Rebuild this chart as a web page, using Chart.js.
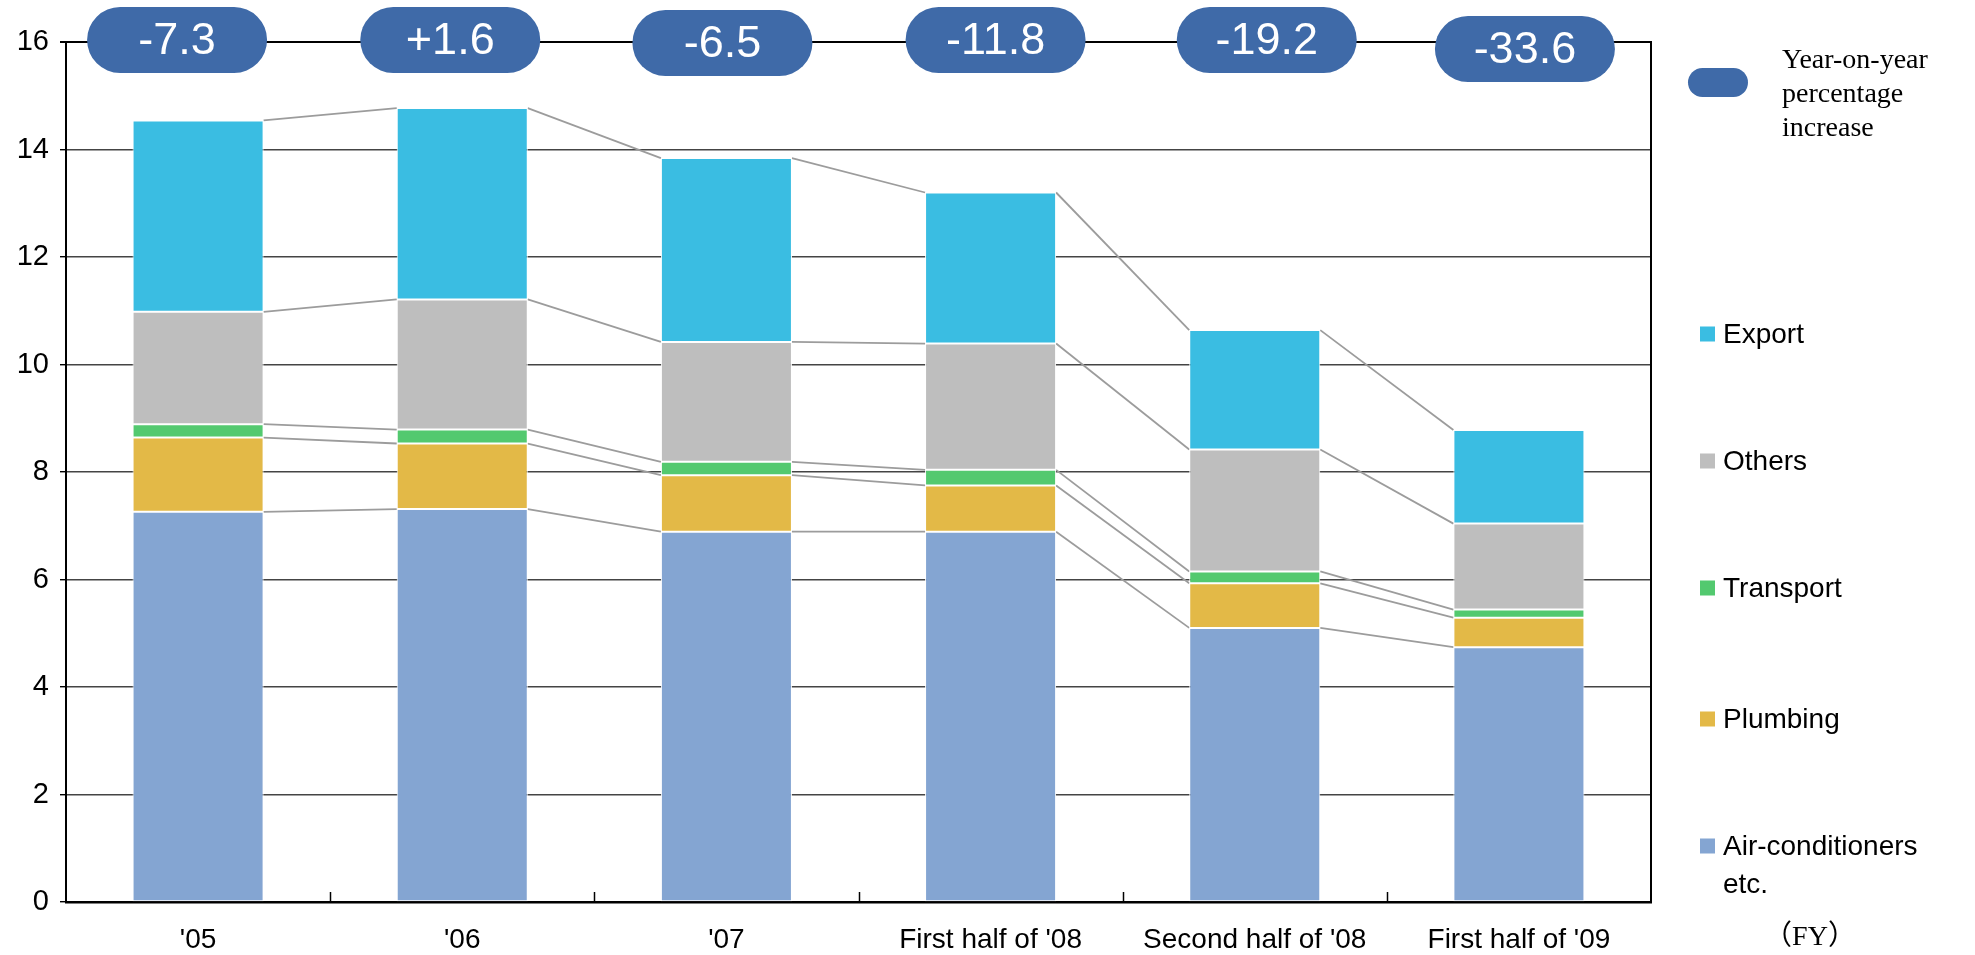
<!DOCTYPE html>
<html>
<head>
<meta charset="utf-8">
<script src="https://cdn.jsdelivr.net/npm/chart.js@4.4.1/dist/chart.umd.min.js"></script>
<style>
  html, body { margin: 0; padding: 0; background: #ffffff; }
  #wrap { width: 1975px; height: 955px; position: relative; }
</style>
</head>
<body>
<div id="wrap"><canvas id="chart" width="1975" height="955"></canvas></div>
<script>
// Sales by segment (stacked), fiscal years / half-years
const categories = ["'05", "'06", "'07", "First half of '08", "Second half of '08", "First half of '09"];
const airConditioners = [7.26, 7.31, 6.89, 6.89, 5.10, 4.74];
const plumbing        = [1.38, 1.22, 1.05, 0.86, 0.83, 0.55];
const transport       = [0.25, 0.26, 0.25, 0.29, 0.22, 0.15];
const others          = [2.09, 2.42, 2.23, 2.35, 2.27, 1.60];
const exportSales     = [3.56, 3.56, 3.42, 2.81, 2.22, 1.74];
const yoyChange       = ["-7.3", "+1.6", "-6.5", "-11.8", "-19.2", "-33.6"];
const yAxisMax = 16;
const yAxisStep = 2;

// Small layout nudges for the year-on-year badges (pixels)
const badgeNudgeX = [-21, -12, -4, 5, 12, 6];
const badgeNudgeY = [-2, -2, 1, -2, -2, 7];

const COLORS = {
  ac: '#84a5d2',
  plumbing: '#e3b947',
  transport: '#53c96f',
  others: '#bebebe',
  export: '#3abde2',
  badge: '#3f6aa8'
};

const SANS = "'Liberation Sans', Arial, sans-serif";
const SERIF = "'Liberation Serif', 'Times New Roman', serif";

function roundRect(ctx, x, y, w, h, r) {
  ctx.beginPath();
  ctx.moveTo(x + r, y);
  ctx.lineTo(x + w - r, y);
  ctx.arc(x + w - r, y + r, r, -Math.PI / 2, Math.PI / 2);
  ctx.lineTo(x + r, y + h);
  ctx.arc(x + r, y + r, r, Math.PI / 2, Math.PI * 1.5);
  ctx.closePath();
}

// Grey connector lines between the tops of matching segments
const seriesLines = {
  id: 'seriesLines',
  beforeDatasetsDraw(chart) {
    const ctx = chart.ctx;
    ctx.save();
    ctx.strokeStyle = '#9c9c9c';
    ctx.lineWidth = 1.8;
    chart.data.datasets.forEach((ds, di) => {
      const meta = chart.getDatasetMeta(di);
      for (let i = 0; i < meta.data.length - 1; i++) {
        const a = meta.data[i].getProps(['x', 'y', 'width'], true);
        const b = meta.data[i + 1].getProps(['x', 'y', 'width'], true);
        ctx.beginPath();
        ctx.moveTo(a.x + a.width / 2, a.y);
        ctx.lineTo(b.x - b.width / 2, b.y);
        ctx.stroke();
      }
    });
    ctx.restore();
  }
};

// Frame pieces, x tick marks, badges and legend
const decorations = {
  id: 'decorations',
  afterDraw(chart) {
    const ctx = chart.ctx;
    const area = chart.chartArea;
    const xs = chart.scales.x;
    const ys = chart.scales.y;
    ctx.save();

    // right border of the plot
    ctx.strokeStyle = '#000';
    ctx.lineWidth = 2;
    ctx.beginPath();
    ctx.moveTo(area.right, area.top - 1);
    ctx.lineTo(area.right, area.bottom + 1);
    ctx.stroke();

    // small inward tick marks between categories
    ctx.lineWidth = 1.5;
    for (let i = 0; i < categories.length - 1; i++) {
      const x = Math.round((xs.getPixelForValue(i) + xs.getPixelForValue(i + 1)) / 2) + 0.5;
      ctx.beginPath();
      ctx.moveTo(x, area.bottom);
      ctx.lineTo(x, area.bottom - 10);
      ctx.stroke();
    }

    // year-on-year badges along the top line
    const topY = ys.getPixelForValue(yAxisMax);
    const bw = 180, bh = 66;
    yoyChange.forEach((txt, i) => {
      const cx = xs.getPixelForValue(i) + badgeNudgeX[i];
      const cy = topY + badgeNudgeY[i];
      ctx.fillStyle = COLORS.badge;
      roundRect(ctx, cx - bw / 2, cy - bh / 2, bw, bh, bh / 2);
      ctx.fill();
      ctx.fillStyle = '#ffffff';
      ctx.font = '45px ' + SANS;
      ctx.textAlign = 'center';
      ctx.textBaseline = 'middle';
      ctx.fillText(txt, cx, cy + 2);
    });

    // legend: badge key
    ctx.fillStyle = COLORS.badge;
    roundRect(ctx, 1688, 68, 60, 29, 14.5);
    ctx.fill();
    ctx.fillStyle = '#000';
    ctx.font = '28px ' + SERIF;
    ctx.textAlign = 'left';
    ctx.textBaseline = 'alphabetic';
    ctx.fillText('Year-on-year', 1782, 68);
    ctx.fillText('percentage', 1782, 102);
    ctx.fillText('increase', 1782, 136);

    // legend: segments
    const items = [
      { label: ['Export'], color: COLORS.export, y: 334 },
      { label: ['Others'], color: COLORS.others, y: 461 },
      { label: ['Transport'], color: COLORS.transport, y: 588 },
      { label: ['Plumbing'], color: COLORS.plumbing, y: 719 },
      { label: ['Air-conditioners', 'etc.'], color: COLORS.ac, y: 846 }
    ];
    ctx.font = '28px ' + SANS;
    ctx.textBaseline = 'middle';
    items.forEach(it => {
      ctx.fillStyle = it.color;
      ctx.fillRect(1700, it.y - 7.5, 15, 15);
      ctx.fillStyle = '#000';
      it.label.forEach((line, k) => ctx.fillText(line, 1723, it.y + 1 + k * 38));
    });

    // unit note under the legend
    ctx.font = "28px 'Liberation Serif', 'Noto Sans CJK JP', serif";
    ctx.textAlign = 'center';
    ctx.fillText('（FY）', 1810, 938);

    ctx.restore();
  }
};

const barCommon = {
  barPercentage: 0.496,
  categoryPercentage: 1.0,
  borderWidth: 1,
  borderColor: '#ffffff',
  borderSkipped: false
};

new Chart(document.getElementById('chart'), {
  type: 'bar',
  data: {
    labels: categories,
    datasets: [
      { label: 'Air-conditioners etc.', data: airConditioners, backgroundColor: COLORS.ac, ...barCommon },
      { label: 'Plumbing', data: plumbing, backgroundColor: COLORS.plumbing, ...barCommon },
      { label: 'Transport', data: transport, backgroundColor: COLORS.transport, ...barCommon },
      { label: 'Others', data: others, backgroundColor: COLORS.others, ...barCommon },
      { label: 'Export', data: exportSales, backgroundColor: COLORS.export, ...barCommon }
    ]
  },
  options: {
    responsive: false,
    animation: false,
    layout: { padding: { left: 0, top: 42, right: 324, bottom: 0 } },
    plugins: {
      legend: { display: false },
      tooltip: { enabled: false }
    },
    scales: {
      x: {
        stacked: true,
        grid: { display: false, drawTicks: false },
        border: { display: true, color: '#000', width: 2.5 },
        ticks: {
          color: '#000',
          font: { family: SANS, size: 28 },
          padding: 21,
          maxRotation: 0,
          autoSkip: false
        },
        afterFit(scale) { scale.height = 53; }
      },
      y: {
        stacked: true,
        min: 0,
        max: yAxisMax,
        grid: {
          color: ctx => (ctx.tick && ctx.tick.value === yAxisMax) ? '#000' : '#444444',
          lineWidth: ctx => (ctx.tick && ctx.tick.value === yAxisMax) ? 2 : 1.4,
          tickColor: '#000',
          tickLength: 6,
          drawTicks: true
        },
        border: { display: true, color: '#000', width: 2 },
        ticks: {
          stepSize: yAxisStep,
          color: '#000',
          font: { family: SANS, size: 29 },
          padding: 11
        },
        afterFit(scale) { scale.width = 66; }
      }
    }
  },
  plugins: [seriesLines, decorations]
});
</script>
</body>
</html>
